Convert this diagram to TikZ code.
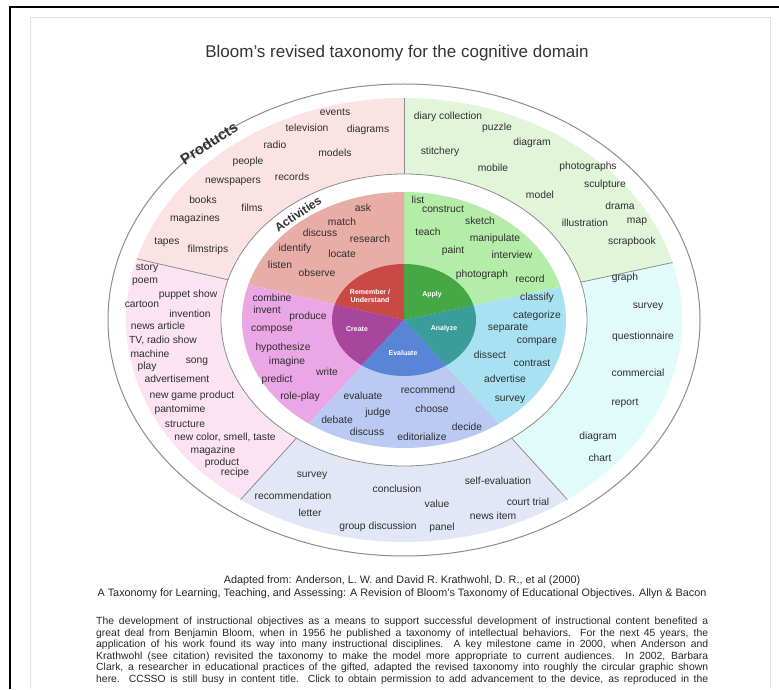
\documentclass[tikz,border=0pt]{standalone}
\usepackage{fontspec}
\setmainfont{Liberation Sans}
\usetikzlibrary{calc}

\definecolor{prodred}{HTML}{FCE3E3}
\definecolor{prodgreen}{HTML}{E1F6D9}
\definecolor{prodcyan}{HTML}{E1FAFA}
\definecolor{prodblue}{HTML}{E3E6F7}
\definecolor{prodpink}{HTML}{FBE3F2}
\definecolor{actred}{HTML}{E9ADA7}
\definecolor{actgreen}{HTML}{B4EDA7}
\definecolor{actcyan}{HTML}{A8E2F2}
\definecolor{actblue}{HTML}{BACAF2}
\definecolor{actpink}{HTML}{EBA6E5}
\definecolor{corered}{HTML}{C94A45}
\definecolor{coregreen}{HTML}{45A845}
\definecolor{corecyan}{HTML}{3B9D9A}
\definecolor{coreblue}{HTML}{5985D6}
\definecolor{corepink}{HTML}{A8469E}
\definecolor{ringgray}{HTML}{8C8C8C}
\definecolor{wordgray}{HTML}{2E2E2E}
\definecolor{titlegray}{HTML}{333333}

\begin{document}
\begin{tikzpicture}[x=1pt, y=1pt,
    word/.style={font=\fontsize{10.3}{12}\selectfont, text=wordgray, inner sep=0pt},
    core/.style={font=\fontsize{7}{8}\selectfont\bfseries, text=white, align=center, inner sep=0pt},
    band/.style={font=\bfseries, text=titlegray, inner sep=0pt, rotate=33},
    divider/.style={draw=ringgray, line width=0.8pt},
    para/.style={font=\fontsize{10.4}{12}\selectfont, text=black!85, inner sep=0pt, anchor=west},
    cite/.style={font=\fontsize{10.8}{12}\selectfont, text=black!85, inner sep=0pt}]
  \useasboundingbox (0,0) rectangle (779,689);
  \clip (0,0) rectangle (779,689);
  \draw[black!12, line width=1pt] (30,0) -- (30,671) -- (770,671) -- (770,0);
  \draw[line width=1.8pt] (10,0) -- (10,682) -- (779,682);
  \node[font=\fontsize{17}{20}\selectfont, text=titlegray] (title) at (397,636) {Bloom's revised taxonomy for the cognitive domain};

  \coordinate (c) at (404,369);
  \foreach \a/\b/\col in {15/90/prodgreen, 90/164/prodred, 164/234/prodpink, 234/306/prodblue, 306/375/prodcyan}
    \fill[\col] (c) -- ++(\a:278 and 222) arc (\a:\b:278 and 222) -- cycle;
  \filldraw[fill=white, draw=ringgray, line width=0.8pt] (c) ellipse (183 and 146);
  \foreach \a/\b/\col in {15/90/actgreen, 90/164/actred, 164/234/actpink, 234/306/actblue, 306/375/actcyan}
    \fill[\col] (c) -- ++(\a:162 and 128) arc (\a:\b:162 and 128) -- cycle;
  \foreach \a/\b/\col in {15/90/coregreen, 90/164/corered, 164/234/corepink, 234/306/coreblue, 306/375/corecyan}
    \fill[\col] (c) -- ++(\a:72 and 56) arc (\a:\b:72 and 56) -- cycle;
  \draw[ringgray, line width=1pt] (c) ellipse (296 and 236);
  \foreach \a in {15,90,164,234,306}
    \draw[divider] ($(c)+(\a:183 and 146)$) -- ($(c)+(\a:278 and 222)$);

  \node[band, font=\fontsize{15}{17}\selectfont\bfseries] (products) at (209,546) {Products};
  \node[band, font=\fontsize{12}{14}\selectfont\bfseries, rotate=1] (activities) at (298,475) {Activities};

  \node[core] (remember) at (370,393) {Remember /\\Understand};
  \node[core] (apply) at (432,394) {Apply};
  \node[core] (analyze) at (444,360) {Analyze};
  \node[core] (evaluate) at (403,336) {Evaluate};
  \node[core] (create) at (357,360) {Create};

  \foreach \x/\y/\w [count=\i] in {335/577/events, 307/561/television, 368/559/diagrams, 275/544/radio,
      335/536/models, 248/527/people, 292/512/records, 233/507/newspapers, 203/489/books, 252/481/films,
      195/470/magazines, 167/447/tapes, 208/439/filmstrips}
    \node[word] (prodred-\i) at (\x,\y) {\w};
  \foreach \x/\y/\w [count=\i] in {448/572/diary collection, 497/561/puzzle, 532/546/diagram, 440/537/stitchery,
      493/521/mobile, 588/522/photographs, 605/504/sculpture, 540/494/model, 620/483/drama,
      585/466/illustration, 637/467/map, 632/447/scrapbook}
    \node[word] (prodgreen-\i) at (\x,\y) {\w};
  \foreach \x/\y/\w [count=\i] in {625/411/graph, 648/382/survey, 643/352/questionnaire, 638/316/commercial,
      625/286/report, 598/252/diagram, 600/231/chart}
    \node[word] (prodcyan-\i) at (\x,\y) {\w};
  \foreach \x/\y/\w [count=\i] in {312/213/survey, 397/200/conclusion, 498/208/self-evaluation,
      293/193/recommendation, 437/185/value, 528/187/court trial, 310/176/letter, 493/173/news item,
      378/162/group discussion, 442/161/panel}
    \node[word] (prodblue-\i) at (\x,\y) {\w};
  \foreach \x/\y/\w [count=\i] in {147/421/story, 145/407/poem, 188/394/puppet show, 142/385/cartoon,
      190/375/invention, 158/363/news article, 163/349/{TV, radio show}, 150/335/machine, 197/327/song,
      147/322/play, 177/310/advertisement, 192/293/new game product, 180/279/pantomime, 185/265/structure,
      225/252/{new color, smell, taste}, 213/238/magazine, 222/226/product, 235/216/recipe}
    \node[word] (prodpink-\i) at (\x,\y) {\w};

  \foreach \x/\y/\w [count=\i] in {363/481/ask, 342/467/match, 320/456/discuss, 370/450/research,
      295/440/identify, 342/435/locate, 280/424/listen, 317/416/observe}
    \node[word] (actred-\i) at (\x,\y) {\w};
  \foreach \x/\y/\w [count=\i] in {418/489/list, 443/480/construct, 480/468/sketch, 428/457/teach,
      495/450/manipulate, 453/438/paint, 512/434/interview, 482/414/photograph, 530/410/record}
    \node[word] (actgreen-\i) at (\x,\y) {\w};
  \foreach \x/\y/\w [count=\i] in {537/391/classify, 537/373/categorize, 508/361/separate, 537/347/compare,
      490/334/dissect, 532/326/contrast, 505/310/advertise, 510/289/survey}
    \node[word] (actcyan-\i) at (\x,\y) {\w};
  \foreach \x/\y/\w [count=\i] in {428/299/recommend, 363/293/evaluate, 432/280/choose, 378/276/judge,
      337/269/debate, 467/262/decide, 367/257/discuss, 422/252/editorialize}
    \node[word] (actblue-\i) at (\x,\y) {\w};
  \foreach \x/\y/\w [count=\i] in {272/391/combine, 267/379/invent, 308/372/produce, 272/359/compose,
      283/341/hypothesize, 287/327/imagine, 327/317/write, 277/309/predict, 300/292/role-play}
    \node[word] (actpink-\i) at (\x,\y) {\w};

  \node[cite] (cite1) at (402,108) {Adapted from: Anderson, L. W. and David R. Krathwohl, D. R., et al (2000)};
  \node[cite] (cite2) at (402,95) {A Taxonomy for Learning, Teaching, and Assessing: A Revision of Bloom's Taxonomy of Educational Objectives. Allyn \& Bacon};

  \node[para] (line1) at (96,67) {\makebox[612pt][s]{The development of instructional objectives as a means to support successful development of instructional content benefited a}};
  \node[para] (line2) at (96,55.5) {\makebox[612pt][s]{great deal from Benjamin Bloom, when in 1956 he published a taxonomy of intellectual behaviors. For the next 45 years, the}};
  \node[para] (line3) at (96,44) {\makebox[612pt][s]{application of his work found its way into many instructional disciplines. A key milestone came in 2000, when Anderson and}};
  \node[para] (line4) at (96,32.5) {\makebox[612pt][s]{Krathwohl (see citation) revisited the taxonomy to make the model more appropriate to current audiences. In 2002, Barbara}};
  \node[para] (line5) at (96,21) {\makebox[612pt][s]{Clark, a researcher in educational practices of the gifted, adapted the revised taxonomy into roughly the circular graphic shown}};
  \node[para] (line6) at (96,9.5) {\makebox[612pt][s]{here. CCSSO is still busy in content title. Click to obtain permission to add advancement to the device, as reproduced in the}};
\end{tikzpicture}
\end{document}
